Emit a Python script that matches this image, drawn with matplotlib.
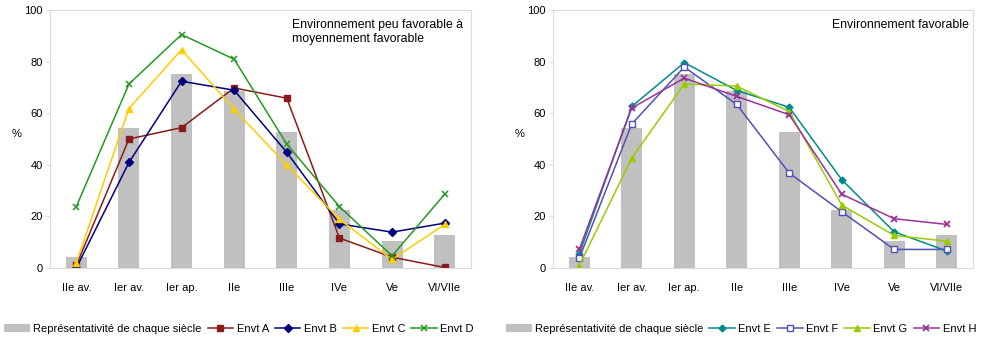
import numpy as np
import matplotlib.pyplot as plt

plt.rcParams['font.family'] = ['Liberation Sans', 'DejaVu Sans']
fontsize = 8

# categories
siecles = ['IIe av.', 'Ier av.', 'Ier ap.', 'IIe', 'IIIe', 'IVe', 'Ve', 'VI/VIIe']

# representativite (bars)
repres = [4.2, 54.2, 75.3, 68.5, 52.6, 22.6, 10.4, 12.7]

# left panel series
envt_a = [1.0, 50.0, 54.4, 69.8, 65.8, 11.6, 4.2, 0.2]
envt_b = [0.0, 40.9, 72.4, 68.9, 44.8, 17.1, 13.9, 17.4]
envt_c = [2.0, 61.8, 84.6, 61.5, 39.9, 18.9, 3.3, 16.9]
envt_d = [23.8, 71.3, 90.5, 80.9, 48.0, 23.8, 4.7, 28.6]

# right panel series
envt_e = [5.4, 62.6, 79.6, 68.8, 62.3, 34.2, 14.0, 6.6]
envt_f = [3.7, 55.8, 77.9, 63.4, 36.8, 21.8, 7.2, 7.2]
envt_g = [0.9, 42.6, 71.3, 70.5, 60.6, 24.4, 12.6, 10.4]
envt_h = [7.2, 62.0, 73.6, 66.5, 59.4, 28.6, 19.1, 16.9]

x = np.arange(len(siecles))
bar_col = '#c0c0c0'
frame_col = '#dcdcdc'

fig = plt.figure(figsize=(9.82, 3.42), dpi=100)
ax1 = fig.add_axes([50/982, 74/342, 421/982, 258/342])
ax2 = fig.add_axes([553/982, 74/342, 420/982, 258/342])

def style(ax):
    ax.set_xlim(-0.5, 7.5)
    ax.set_ylim(0, 100)
    ax.set_yticks([0, 20, 40, 60, 80, 100])
    ax.set_xticks(x)
    ax.set_xticklabels(siecles, fontsize=fontsize)
    ax.tick_params(axis='y', labelsize=fontsize, length=3, color=frame_col, pad=2)
    ax.tick_params(axis='x', length=0, pad=11)
    for s in ax.spines.values():
        s.set_color(frame_col)
        s.set_linewidth(0.8)
    ax.set_ylabel('%', fontsize=fontsize, rotation=0, labelpad=6)

def legend(ax, xc):
    h, l = ax.get_legend_handles_labels()
    order = [len(h) - 1] + list(range(len(h) - 1))
    ax.legend([h[i] for i in order], [l[i] for i in order], loc='upper center',
              bbox_to_anchor=(xc, 0.083), bbox_transform=fig.transFigure,
              ncol=5, frameon=False, fontsize=fontsize,
              handlelength=2.3, handletextpad=0.3, columnspacing=0.55)

# left
ax1.plot(x, envt_a, color='#8b1a1a', marker='s', ms=4.5, lw=1.1, label='Envt A')
ax1.plot(x, envt_b, color='#00007f', marker='D', ms=4, lw=1.1, label='Envt B')
ax1.plot(x, envt_c, color='#ffcc00', marker='^', ms=5, lw=1.1, label='Envt C')
ax1.plot(x, envt_d, color='#229922', marker='x', ms=5, mew=1.1, lw=1.1, label='Envt D')
ax1.bar(x, repres, width=0.4, color=bar_col, label='Représentativité de chaque siècle', zorder=1)
style(ax1)
ax1.text(0.575, 0.965, 'Environnement peu favorable à\nmoyennement favorable',
         transform=ax1.transAxes, fontsize=8.8, va='top', ha='left', linespacing=1.25)
legend(ax1, 239/982)

# right
ax2.plot(x, envt_e, color='#008b8b', marker='D', ms=3.5, lw=1.1, label='Envt E')
ax2.plot(x, envt_f, color='#5050b8', marker='s', ms=5, mfc='white', lw=1.1, label='Envt F')
ax2.plot(x, envt_g, color='#99cc00', marker='^', ms=5, lw=1.1, label='Envt G')
ax2.plot(x, envt_h, color='#993399', marker='x', ms=5, mew=1.3, lw=1.1, label='Envt H')
ax2.bar(x, repres, width=0.4, color=bar_col, label='Représentativité de chaque siècle', zorder=1)
style(ax2)
ax2.text(0.99, 0.965, 'Environnement favorable', transform=ax2.transAxes,
         fontsize=8.8, va='top', ha='right')
legend(ax2, 741/982)

plt.savefig('out.png', dpi=100)
